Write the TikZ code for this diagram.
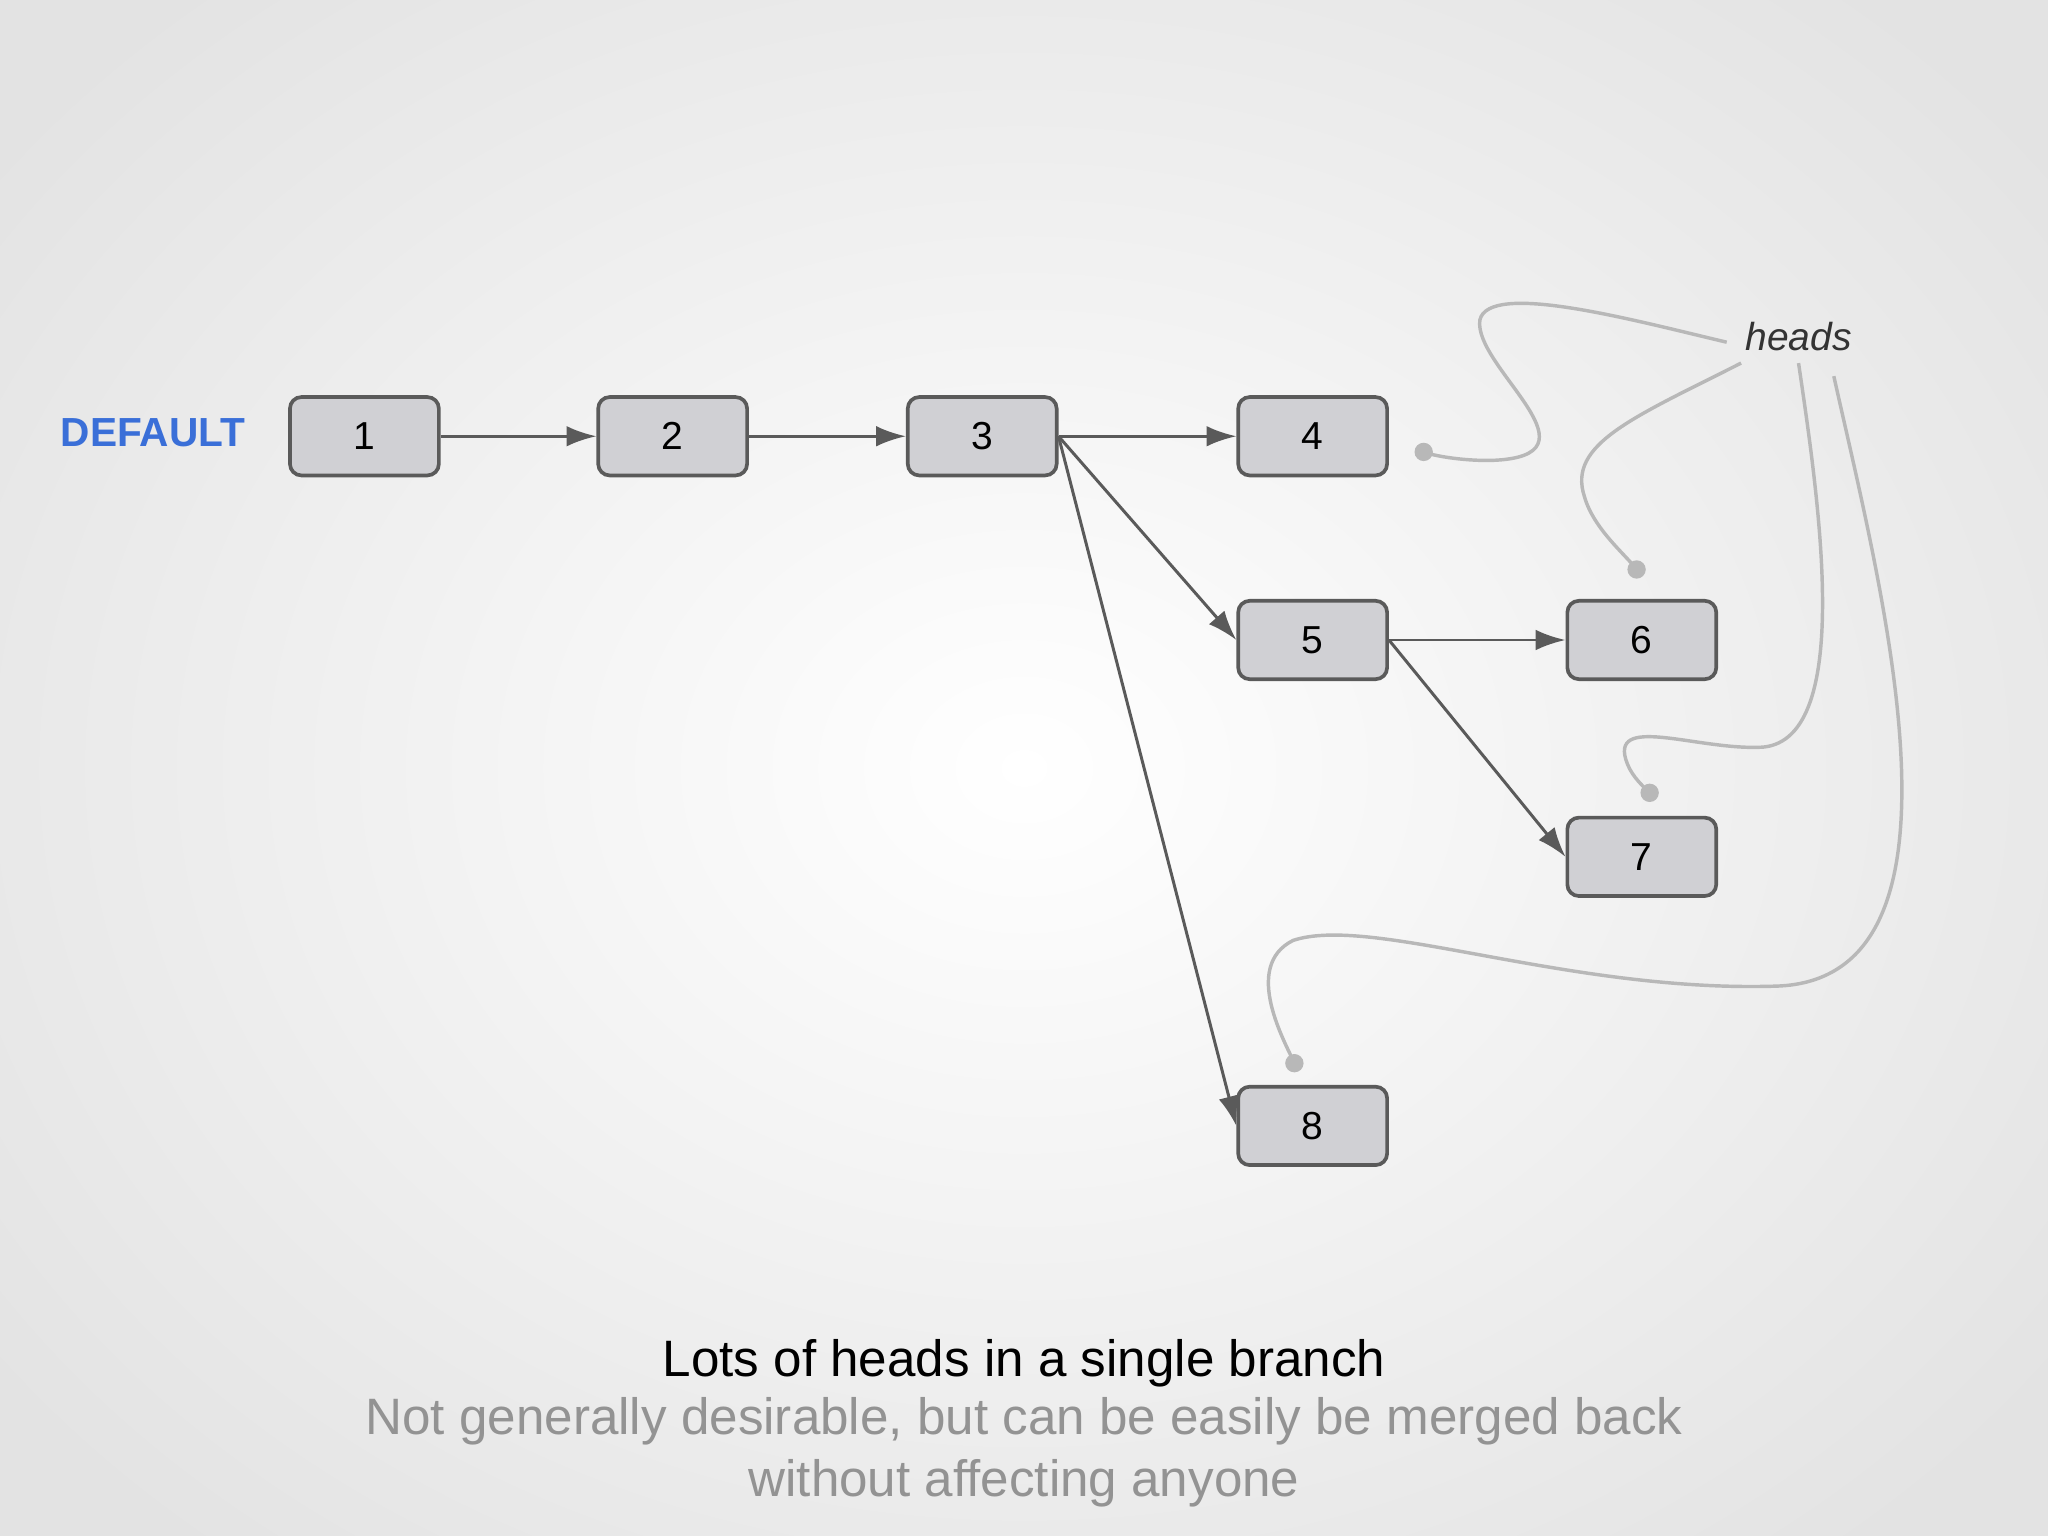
\documentclass[tikz,border=0pt]{standalone}
\usepackage{fontspec}
\setmainfont{Liberation Sans}
\usetikzlibrary{arrows.meta}
\definecolor{edge}{HTML}{5A5A5A}
\definecolor{boxfill}{HTML}{D0D0D4}
\definecolor{hline}{HTML}{B8B8B8}
\definecolor{defblue}{HTML}{3A6FD8}
\begin{document}
\begin{tikzpicture}[x=0.02cm,y=-0.02cm,
  commit/.style={draw=edge,line width=1.6pt,fill=boxfill,rounded corners=5pt,minimum width=114*0.02cm,minimum height=60*0.02cm,font=\fontsize{17}{20}\selectfont},
  arr/.style={draw=edge,line width=1.3pt,-{Latex[length=13pt,width=9pt]}},
  hcurve/.style={draw=hline,line width=1.5pt},
  hdot/.style={circle,fill=hline,inner sep=0pt,minimum size=8pt}]
\useasboundingbox (0,0) rectangle (1568,1176);
\begin{scope}
\clip (0,0) rectangle (1568,1176);
\shade[inner color=white,outer color=gray!22] (-200,-200) rectangle (1768,1376);
\end{scope}
\node[commit] (n1) at (279,334) {1};
\node[commit] (n2) at (515,334) {2};
\node[commit] (n3) at (752,334) {3};
\node[commit] (n4) at (1005,334) {4};
\node[commit] (n5) at (1005,490) {5};
\node[commit] (n6) at (1257,490) {6};
\node[commit] (n7) at (1257,656) {7};
\node[commit] (n8) at (1005,862) {8};
\node[text=defblue,font=\bfseries\fontsize{17.7}{20}\selectfont] (def) at (117,331) {DEFAULT};
\draw[arr] (n1) -- (n2);
\draw[arr] (n2) -- (n3);
\draw[arr] (n3) -- (n4);
\draw[arr] (n3.east) -- (n5.west);
\draw[arr] (n3.east) -- (n8.west);
\draw[arr] (n5) -- (n6);
\draw[arr] (n5.east) -- (n7.west);
\node[font=\itshape\fontsize{17}{20}\selectfont,text=black!80] (heads) at (1377,258) {heads};
\node[hdot] (d4) at (1090,346) {};
\node[hdot] (d6) at (1253,436) {};
\node[hdot] (d7) at (1263,607) {};
\node[hdot] (d8) at (991,814) {};
\draw[hcurve] (1322,262) .. controls (1250,245) and (1140,215) .. (1133,245) .. controls (1128,280) and (1225,345) .. (1150,352) .. controls (1130,354) and (1100,350) .. (d4.center);
\draw[hcurve] (1333,278) .. controls (1250,320) and (1200,340) .. (1213,380) .. controls (1220,405) and (1245,425) .. (d6.center);
\draw[hcurve] (1377,278) .. controls (1392,380) and (1420,565) .. (1350,572) .. controls (1300,575) and (1230,545) .. (1246,585) .. controls (1250,595) and (1258,602) .. (d7.center);
\draw[hcurve] (1404,288) .. controls (1440,450) and (1520,750) .. (1360,755) .. controls (1200,760) and (1050,700) .. (990,720) .. controls (950,740) and (985,800) .. (d8.center);
\node[font=\fontsize{22.3}{26}\selectfont] (title) at (784,1044) {Lots of heads in a single branch};
\node[font=\fontsize{22.3}{27}\selectfont,text=gray!85,align=center] (sub) at (784,1112) {Not generally desirable, but can be easily be merged back\\without affecting anyone};
\end{tikzpicture}
\end{document}
